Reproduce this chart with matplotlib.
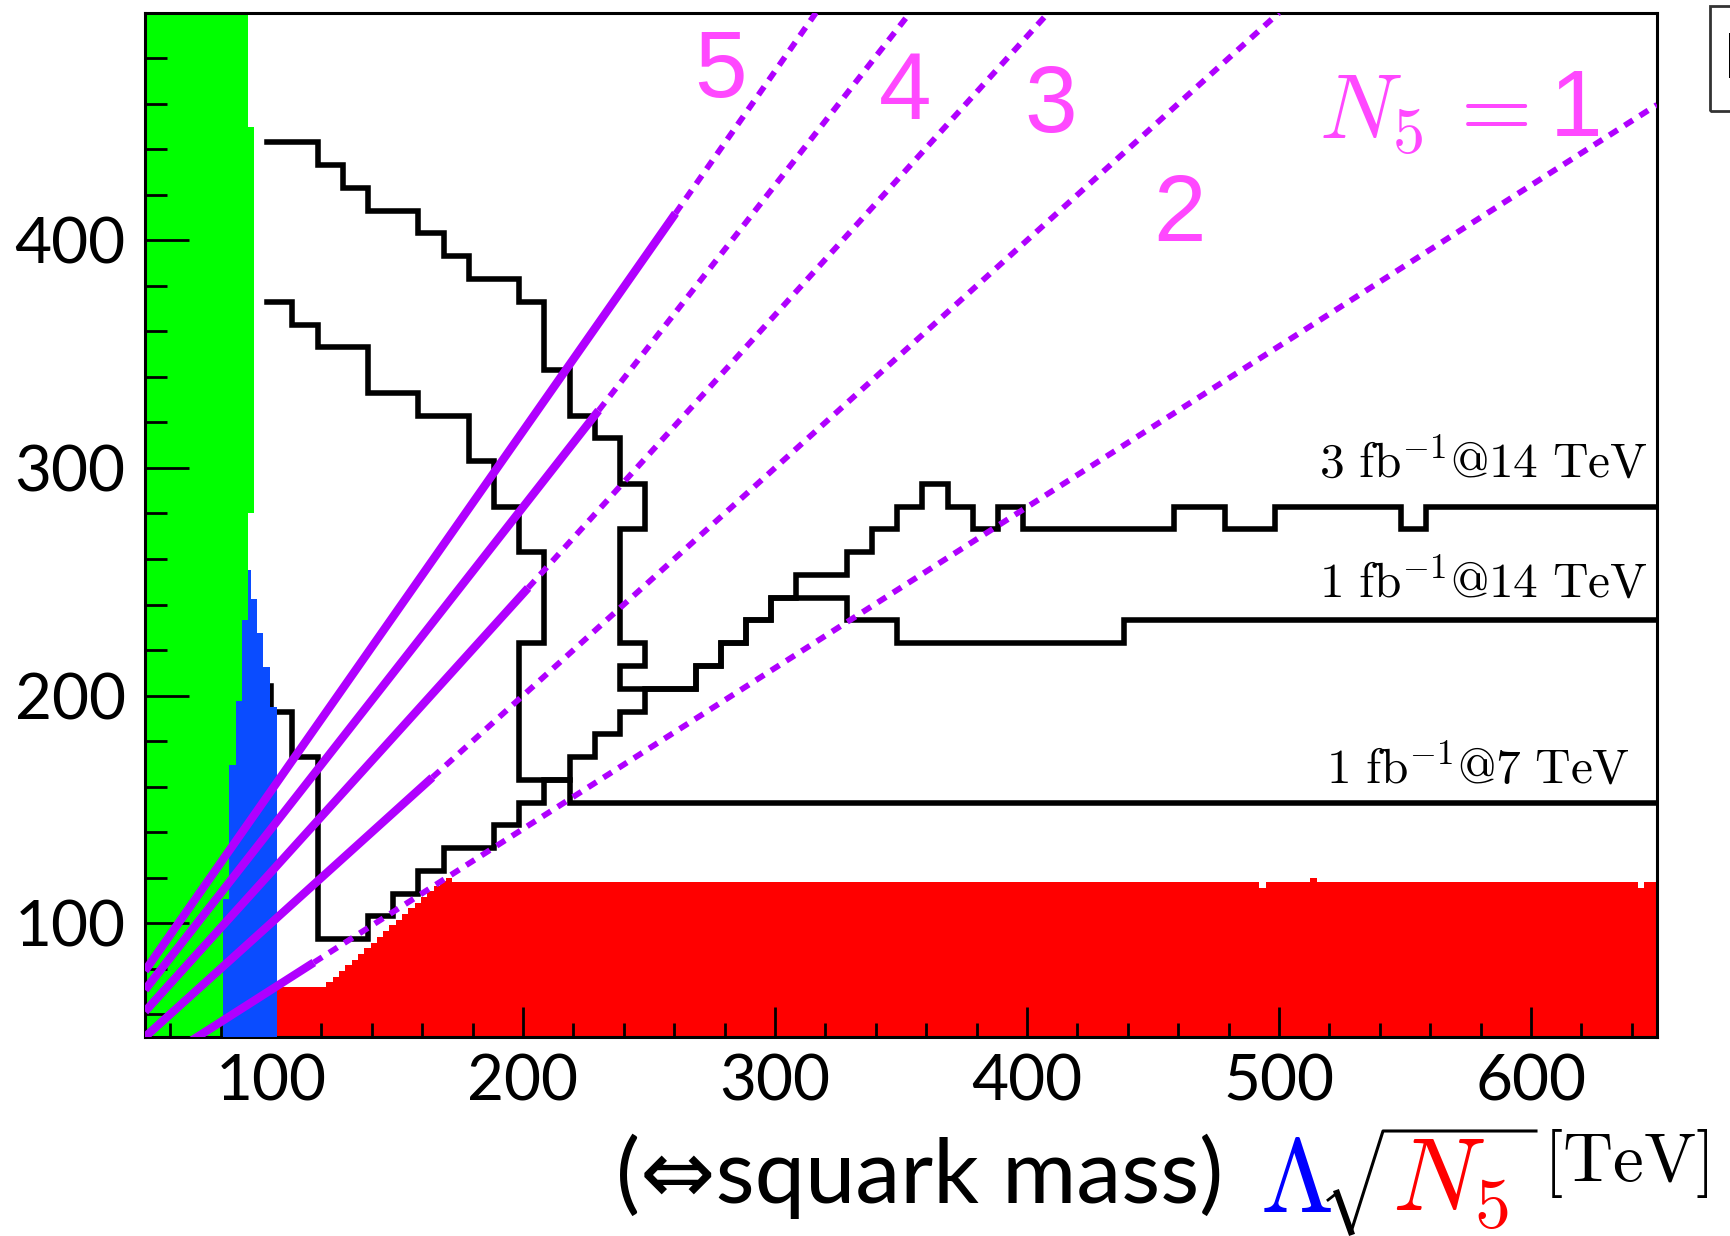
import matplotlib
matplotlib.use('Agg')
import matplotlib.pyplot as plt
from matplotlib.ticker import MultipleLocator
from matplotlib.patches import Rectangle
from matplotlib.lines import Line2D

plt.rcParams['font.family'] = ['Lato', 'DejaVu Sans']
plt.rcParams['mathtext.fontset'] = 'cm'

# excluded regions
green_left = [50, 91]
green_width = [41, 2.3]
green_bottom = [0, 280]
green_top = [500, 450]

blue_edges = [81, 83.5, 86, 88.5, 91, 92, 94.5, 97, 99.5, 102.2]
blue_top = [110.5, 169.5, 197.5, 233, 255, 242.5, 227.5, 212.5, 195]

red_edges = [102.2, 122, 124.5, 127, 129.5, 132, 134.5, 137, 139.5, 142, 144.5, 147,
             149.5, 152, 154.5, 157, 159.5, 162, 164.5, 167, 169.5, 172,
             492, 495, 512.5, 515, 642.5, 645, 650]
red_top = [72, 74, 76.5, 79, 81.5, 84, 86.5, 89, 91.5, 94, 96.5, 99, 101.5, 104,
           106.5, 109, 111.5, 114, 116.5, 118.5, 120,
           118, 115.5, 118, 120, 118, 115.5, 118]

# reach contours (corner points)
curve_3fb14 = [(98.5, 443), (118.5, 443), (118.5, 433), (128.5, 433), (128.5, 423), (138.5, 423),
               (138.5, 413), (158.5, 413), (158.5, 403), (168.5, 403), (168.5, 393), (178.5, 393),
               (178.5, 383), (198.5, 383), (198.5, 373), (208.5, 373), (208.5, 343), (218.5, 343),
               (218.5, 323), (228.5, 323), (228.5, 313), (238.5, 313), (238.5, 293), (248.5, 293),
               (248.5, 273), (238.5, 273), (238.5, 223), (248.5, 223), (248.5, 213), (238.5, 213),
               (238.5, 203), (268.5, 203), (268.5, 213), (278.5, 213), (278.5, 223), (288.5, 223),
               (288.5, 233), (298.5, 233), (298.5, 243), (308.5, 243), (308.5, 253), (328.5, 253),
               (328.5, 263), (338.5, 263), (338.5, 273), (348.5, 273), (348.5, 283), (358.5, 283),
               (358.5, 293), (368.5, 293), (368.5, 283), (378.5, 283), (378.5, 273), (388.5, 273),
               (388.5, 283), (398.5, 283), (398.5, 273), (458.5, 273), (458.5, 283), (478.5, 283),
               (478.5, 273), (498.5, 273), (498.5, 283), (548.5, 283), (548.5, 273), (558.5, 273),
               (558.5, 283), (650, 283)]
curve_1fb14 = [(98.5, 373), (108.5, 373), (108.5, 363), (118.5, 363), (118.5, 353), (138.5, 353),
               (138.5, 333), (158.5, 333), (158.5, 323), (178.5, 323), (178.5, 303), (188.5, 303),
               (188.5, 283), (198.5, 283), (198.5, 263), (208.5, 263), (208.5, 223), (198.5, 223),
               (198.5, 163), (218.5, 163), (218.5, 173), (228.5, 173), (228.5, 183), (238.5, 183),
               (238.5, 193), (248.5, 193), (248.5, 203), (268.5, 203), (268.5, 213), (278.5, 213),
               (278.5, 223), (288.5, 223), (288.5, 233), (298.5, 233), (298.5, 243), (328.5, 243),
               (328.5, 233), (348.5, 233), (348.5, 223), (438.5, 223), (438.5, 233), (650, 233)]
curve_1fb7 = [(100, 204), (100, 193), (108.5, 193), (108.5, 173), (118.5, 173), (118.5, 93),
              (138.5, 93), (138.5, 103), (148.5, 103), (148.5, 113), (158.5, 113), (158.5, 123),
              (168.5, 123), (168.5, 133), (188.5, 133), (188.5, 143), (198.5, 143), (198.5, 153),
              (208.5, 153), (208.5, 163), (218.5, 163), (218.5, 153), (650, 153)]

# N5 lines: slope of m vs Lambda*sqrt(N5), end of the solid part
n5_labels = ['1', '2', '3', '4', '5']
n5_slopes = [0.707, 1.0, 1.224, 1.414, 1.581]
n5_solid_end = [117, 164, 202, 230, 260.5]

purple = '#b000ff'
pink = '#ff48ff'

W, H = 1731, 1236


def fpos(x, y):
    return x / W, 1 - y / H


fig = plt.figure(figsize=(W / 100, H / 100), dpi=100)
ax = fig.add_axes([145 / W, 1 - 1037 / H, (1657 - 145) / W, (1037 - 12.7) / H])

ax.bar(green_left, [t - b for t, b in zip(green_top, green_bottom)], width=green_width,
       bottom=green_bottom, align='edge', color='#00ff00', lw=0, zorder=1)
ax.stairs(red_top, red_edges, fill=True, color='#ff0000', baseline=0, lw=0, zorder=1)

for c in [curve_3fb14, curve_1fb14, curve_1fb7]:
    ax.plot([p[0] for p in c], [p[1] for p in c], color='black', lw=4,
            solid_joinstyle='miter', zorder=2)

ax.stairs(blue_top, blue_edges, fill=True, color='#0a4cff', baseline=0, lw=0, zorder=3)

for k, xe in zip(n5_slopes, n5_solid_end):
    ax.plot([50, xe], [50 * k, xe * k], color=purple, lw=6, solid_capstyle='butt', zorder=4)
    xt = min(650, 500 / k)
    ax.plot([xe, xt], [xe * k, xt * k], color=purple, lw=4.2, ls=(0, (1.7, 1.4)),
            dash_capstyle='butt', zorder=4)

ax.set_xlim(50, 650)
ax.set_ylim(50, 500)
ax.set_xticks([100, 200, 300, 400, 500, 600])
ax.set_yticks([100, 200, 300, 400])
ax.xaxis.set_minor_locator(MultipleLocator(20))
ax.yaxis.set_minor_locator(MultipleLocator(20))
ax.tick_params(which='both', direction='in', top=False, right=False, width=2, labelsize=46)
ax.tick_params(axis='x', which='major', length=21.6, pad=12)
ax.tick_params(axis='x', which='minor', length=10)
ax.tick_params(axis='y', which='major', length=32, pad=14)
ax.tick_params(axis='y', which='minor', length=15.6)
for s in ax.spines.values():
    s.set_linewidth(2.2)

# N5 labels
fig.text(*fpos(721, 97), '5', color=pink, fontsize=68, family='Liberation Sans', ha='center', va='baseline')
fig.text(*fpos(905, 119), '4', color=pink, fontsize=68, family='Liberation Sans', ha='center', va='baseline')
fig.text(*fpos(1051, 132), '3', color=pink, fontsize=68, family='Liberation Sans', ha='center', va='baseline')
fig.text(*fpos(1179, 241), '2', color=pink, fontsize=68, family='Liberation Sans', ha='center', va='baseline')
fig.text(*fpos(1528, 138), r'$N_5\,=$', color=pink, fontsize=66, ha='right', va='baseline')
fig.text(*fpos(1576, 136), '1', color=pink, fontsize=68, family='Liberation Sans', ha='center', va='baseline')

# luminosity labels
fig.text(*fpos(1648, 477), r'$\mathrm{3\ fb^{-1}@14\ TeV}$', fontsize=35.5, ha='right', va='baseline')
fig.text(*fpos(1648, 597), r'$\mathrm{1\ fb^{-1}@14\ TeV}$', fontsize=35.5, ha='right', va='baseline')
fig.text(*fpos(1630, 783), r'$\mathrm{1\ fb^{-1}@7\ TeV}$', fontsize=35.5, ha='right', va='baseline')

# x axis title
fig.text(*fpos(616, 1203), '(\u21d4squark mass)', fontsize=65, ha='left', va='baseline')
fig.text(*fpos(1260, 1212), r'$\Lambda$', color='blue', fontsize=76, ha='left', va='baseline')
fig.add_artist(Line2D([x / W for x in [1328, 1337]], [1 - y / H for y in [1200, 1193]], color='black', lw=2))
fig.add_artist(Line2D([x / W for x in [1337, 1351]], [1 - y / H for y in [1193, 1232]], color='black', lw=4.5))
fig.add_artist(Line2D([x / W for x in [1351, 1383, 1536]], [1 - y / H for y in [1232, 1131, 1131]],
                      color='black', lw=2.2))
fig.text(*fpos(1392, 1212), r'$N_5$', color='red', fontsize=74, ha='left', va='baseline')
fig.text(*fpos(1543, 1181), r'$[\mathrm{TeV}]$', fontsize=50, ha='left', va='baseline')

# legend box cut at the right edge
fig.add_artist(Rectangle(fpos(1710, 111), 60 / W, 105 / H, fill=False, edgecolor='#333333', lw=2))
fig.add_artist(Rectangle(fpos(1729, 78), 3 / W, 45 / H, color='black', lw=0))

fig.savefig('out.png', dpi=100)
